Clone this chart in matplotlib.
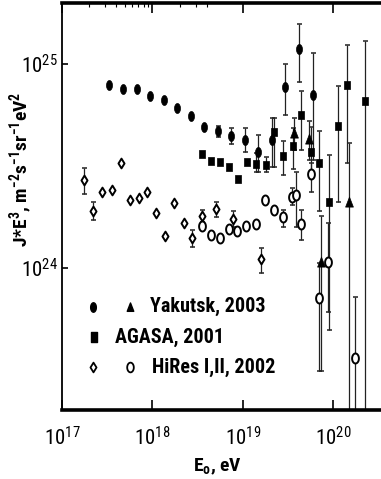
import numpy as np
import matplotlib
matplotlib.use('Agg')
import matplotlib.pyplot as plt
from matplotlib import font_manager
from matplotlib.path import Path
from matplotlib.ticker import FixedLocator, NullLocator, LogLocator

nan = np.nan

# Yakutsk 2003, filled circles
yak_E = [3.30e17, 4.72e17, 6.68e17, 9.46e17, 1.33e18, 1.87e18, 2.64e18, 3.73e18,
         5.30e18, 7.43e18, 1.05e19, 1.48e19, 2.11e19, 2.93e19, 4.19e19, 5.89e19]
yak_J = [7.94e24, 7.52e24, 7.59e24, 7.01e24, 6.67e24, 6.08e24, 5.57e24, 4.90e24,
         4.67e24, 4.44e24, 4.25e24, 3.71e24, 4.25e24, 7.76e24, 1.19e25, 7.03e24]
yak_hi = [nan] * 8 + [4.95e24, 4.86e24, 4.83e24, 4.48e24, 5.41e24, 1.00e25, 1.57e25, 1.13e25]
yak_lo = [nan] * 8 + [4.39e24, 4.03e24, 3.71e24, 2.95e24, 3.13e24, 5.61e24, 8.13e24, 3.37e24]

# Yakutsk 2003, filled triangles
yakt_E = [3.69e19, 5.36e19, 7.23e19, 1.48e20]
yakt_J = [4.61e24, 4.28e24, 1.06e24, 2.09e24]
yakt_hi = [5.41e24, 5.24e24, 1.79e24, 4.09e24]
yakt_lo = [3.78e24, 3.37e24, 3.10e23, 1e22]

# AGASA 2001, filled squares
aga_E = [3.55e18, 4.46e18, 5.61e18, 7.06e18, 8.88e18, 1.12e19, 1.40e19, 1.78e19, 2.22e19,
         2.79e19, 3.54e19, 4.41e19, 5.60e19, 6.97e19, 8.91e19, 1.11e20, 1.40e20, 2.23e20]
aga_J = [3.61e24, 3.36e24, 3.30e24, 3.14e24, 2.73e24, 3.30e24, 3.23e24, 3.21e24, 4.65e24,
         3.54e24, 3.96e24, 5.60e24, 3.71e24, 3.28e24, 2.09e24, 4.97e24, 7.88e24, 6.58e24]
aga_hi = [nan] * 6 + [3.64e24, 3.50e24, 5.41e24, 4.20e24, 4.83e24, 7.36e24,
                      4.92e24, 4.68e24, 3.57e24, 7.82e24, 1.25e25, 1.30e25]
aga_lo = [nan] * 6 + [2.95e24, 2.95e24, 3.13e24, 2.84e24, 3.05e24, 3.78e24,
                      2.84e24, 1.90e24, 4.92e23, 2.09e24, 3.28e24, 1e22]

# HiRes I 2002, open diamonds
hr1_E = [1.76e17, 2.22e17, 2.79e17, 3.54e17, 4.45e17, 5.60e17, 7.04e17, 8.77e17, 1.10e18,
         1.38e18, 1.73e18, 2.21e18, 2.75e18, 3.52e18, 5.04e18, 7.82e18, 1.57e19]
hr1_J = [2.71e24, 1.90e24, 2.35e24, 2.40e24, 3.27e24, 2.14e24, 2.21e24, 2.36e24, 1.86e24,
         1.43e24, 2.07e24, 1.66e24, 1.40e24, 1.80e24, 1.95e24, 1.73e24, 1.10e24]
hr1_hi = [3.09e24, 2.10e24] + [nan] * 10 + [1.53e24, 1.91e24, 2.10e24, 1.90e24, 1.25e24]
hr1_lo = [2.31e24, 1.71e24] + [nan] * 10 + [1.26e24, 1.68e24, 1.77e24, 1.58e24, 9.45e23]

# HiRes II 2002, open circles
hr2_E = [3.50e18, 4.40e18, 5.54e18, 6.97e18, 8.65e18, 1.09e19, 1.38e19, 1.74e19, 2.19e19,
         2.78e19, 3.51e19, 3.90e19, 4.38e19, 5.60e19, 7.00e19, 8.77e19, 1.75e20]
hr2_J = [1.61e24, 1.45e24, 1.39e24, 1.54e24, 1.51e24, 1.60e24, 1.63e24, 2.14e24, 1.91e24,
         1.77e24, 2.23e24, 2.27e24, 1.63e24, 2.90e24, 7.06e23, 1.07e24, 3.59e23]
hr2_hi = [nan] * 9 + [1.91e24, 2.45e24, 2.95e24, 1.91e24, 3.26e24, 1.05e24, 1.65e24, 7.17e23]
hr2_lo = [nan] * 9 + [1.58e24, 2.02e24, 1.58e24, 1.36e24, 2.35e24, 3.10e23, 6.05e23, 1e22]

# narrow sans for all text
avail = {f.name for f in font_manager.fontManager.ttflist}
narrow = next((n for n in ['Roboto Condensed', 'Archivo Narrow', 'PT Sans Narrow',
                           'Liberation Sans Narrow', 'Encode Sans Condensed',
                           'Sofia Sans Condensed'] if n in avail), 'DejaVu Sans')
plt.rcParams['font.family'] = [narrow, 'DejaVu Sans']
plt.rcParams['mathtext.fontset'] = 'custom'
plt.rcParams['mathtext.rm'] = narrow
plt.rcParams['mathtext.it'] = narrow + ':italic'
plt.rcParams['mathtext.bf'] = narrow + ':bold'


def tall(verts):
    return Path(verts + [verts[0]], closed=True)


t = np.linspace(0, 2 * np.pi, 41)
ellipse_w = tall([(0.6 * np.cos(a), np.sin(a)) for a in t[:-1]])
ellipse_o = tall([(0.68 * np.cos(a), np.sin(a)) for a in t[:-1]])
rect = tall([(-0.62, -1), (0.62, -1), (0.62, 1), (-0.62, 1)])
diamond = tall([(0, 1), (0.62, 0), (0, -1), (-0.62, 0)])
tri = tall([(0, 1), (0.72, -0.85), (-0.72, -0.85)])

fig = plt.figure(figsize=(3.81, 4.79), dpi=100)
ax = fig.add_axes([62 / 381, 69.3 / 479, 1 - 62 / 381, 406.7 / 479])
ax.set_xscale('log')
ax.set_yscale('log')


def series(E, J, hi, lo, marker, ms, filled):
    E, J, hi, lo = map(np.asarray, (E, J, hi, lo))
    m = ~np.isnan(hi)
    ax.errorbar(E[m], J[m], yerr=[J[m] - lo[m], hi[m] - J[m]], fmt='none',
                ecolor='#222222', elinewidth=0.9, capsize=1.8, capthick=1.1, zorder=2)
    if filled:
        ax.plot(E, J, ls='none', marker=marker, ms=ms, mfc='black', mec='black',
                mew=0.5, zorder=3)
    else:
        ax.plot(E, J, ls='none', marker=marker, ms=ms, mfc='white', mec='black',
                mew=1.4, zorder=3)


series(yak_E, yak_J, yak_hi, yak_lo, ellipse_w, 7.2, True)
series(yakt_E, yakt_J, yakt_hi, yakt_lo, tri, 7.8, True)
series(aga_E, aga_J, aga_hi, aga_lo, rect, 6.0, True)
series(hr1_E, hr1_J, hr1_hi, hr1_lo, diamond, 7.0, False)
series(hr2_E, hr2_J, hr2_hi, hr2_lo, ellipse_o, 7.2, False)

ax.set_xlim(1e17, 10 ** 20.525)
ax.set_ylim(2e23, 2e25)

ax.xaxis.set_major_locator(LogLocator(base=10, numticks=10))
ax.xaxis.set_minor_locator(FixedLocator([k * 1e17 for k in range(2, 10)] + [2e18, 3e18, 4e18]))
ax.yaxis.set_major_locator(LogLocator(base=10, numticks=10))
ax.yaxis.set_minor_locator(NullLocator())

ax.tick_params(axis='x', which='major', direction='in', top=True, length=7, width=1.2,
               labelsize=15, pad=12)
ax.tick_params(axis='x', which='minor', direction='in', top=True, bottom=False,
               length=3, width=0.8)
ax.tick_params(axis='y', which='major', direction='in', length=4, width=1.2,
               labelsize=15, pad=3)

ax.spines['right'].set_visible(False)
ax.spines['top'].set_linewidth(2.6)
ax.spines['bottom'].set_linewidth(2.6)
ax.spines['left'].set_linewidth(1.3)

ax.set_xlabel(r'E$_\mathregular{o}$, eV', fontsize=14, fontweight='bold')
ax.xaxis.set_label_coords(0.486, -0.116)
ax.set_ylabel(r'J*E$^{\mathbf{3}}$, m$^{\mathbf{-2}}$s$^{\mathbf{-1}}$sr$^{\mathbf{-1}}$eV$^{\mathbf{2}}$',
              fontsize=14, fontweight='bold')
ax.yaxis.set_label_coords(-0.084, 0.59)

# hand-placed key
tr = ax.transAxes
rows = [0.2533, 0.1788, 0.105]
ax.plot([0.097], [rows[0]], transform=tr, marker=ellipse_w, ms=6.8, color='black', ls='none')
ax.plot([0.2132], [rows[0]], transform=tr, marker=tri, ms=6.5, color='black', ls='none')
ax.text(0.2759, rows[0], 'Yakutsk, 2003', transform=tr, fontsize=14.5, fontweight='bold', va='center')
ax.plot([0.099], [rows[1]], transform=tr, marker=rect, ms=6.8, color='black', ls='none')
ax.text(0.1661, rows[1], 'AGASA, 2001', transform=tr, fontsize=14.5, fontweight='bold', va='center')
ax.plot([0.097], [rows[2]], transform=tr, marker=diamond, ms=7.0, mfc='white', mec='black',
        mew=1.3, ls='none')
ax.plot([0.2132], [rows[2]], transform=tr, marker=ellipse_o, ms=7.0, mfc='white', mec='black',
        mew=1.3, ls='none')
ax.text(0.2812, rows[2], 'HiRes I,II, 2002', transform=tr, fontsize=14.5, fontweight='bold', va='center')

fig.savefig('out.png', dpi=100)
